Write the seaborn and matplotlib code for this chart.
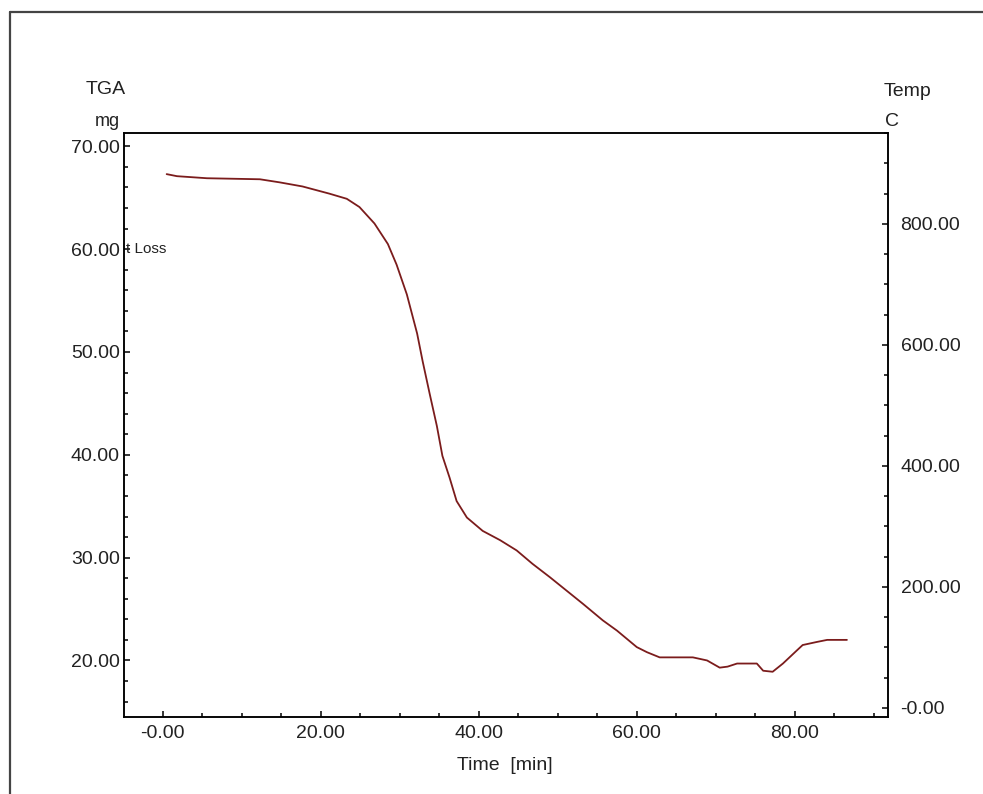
import numpy as np
import pandas as pd
import matplotlib
matplotlib.use('Agg')
import matplotlib.pyplot as plt
from matplotlib.lines import Line2D
from matplotlib.ticker import MultipleLocator, FixedLocator, FixedFormatter
import seaborn as sns

# TGA curve
time_min = [0.5, 1.8, 5.6, 12.3, 14.8, 17.7, 21.1, 23.3, 24.9, 26.8, 28.5, 29.6,
            30.9, 32.2, 32.9, 33.8, 34.7, 35.4, 36.3, 37.2, 38.5, 40.5, 42.7,
            44.8, 46.8, 49.0, 51.1, 53.2, 55.7, 57.5, 60.0, 61.3, 62.9, 67.1,
            68.9, 70.5, 71.5, 72.7, 75.2, 76.0, 77.2, 78.5, 80.3, 81.0, 82.8,
            84.1, 86.6]
tga_mg = [67.3, 67.1, 66.9, 66.8, 66.5, 66.1, 65.4, 64.9, 64.1, 62.5, 60.5, 58.5,
          55.6, 51.8, 49.1, 45.9, 42.8, 39.9, 37.8, 35.5, 33.9, 32.6, 31.7,
          30.7, 29.4, 28.1, 26.8, 25.5, 23.9, 22.9, 21.3, 20.8, 20.3, 20.3,
          20.0, 19.3, 19.4, 19.7, 19.7, 19.0, 18.9, 19.7, 21.0, 21.5, 21.8,
          22.0, 22.0]

x_ticks = [0, 20, 40, 60, 80]
x_labels = ['-0.00', '20.00', '40.00', '60.00', '80.00']
left_ticks = [20, 30, 40, 50, 60, 70]
left_labels = ['20.00', '30.00', '40.00', '50.00', '60.00', '70.00']
right_ticks = [0, 200, 400, 600, 800]
right_labels = ['-0.00', '200.00', '400.00', '600.00', '800.00']

df = pd.DataFrame({'Time': time_min, 'TGA': tga_mg})

sns.set_style('white')
plt.rcParams['font.family'] = ['Liberation Sans', 'DejaVu Sans']

W, H = 983, 794
fig = plt.figure(figsize=(W / 100, H / 100), dpi=100)
ax = fig.add_axes([124 / W, 1 - 717 / H, (888 - 124) / W, (717 - 133) / H])

sns.lineplot(data=df, x='Time', y='TGA', ax=ax, color='#7b1c1c', linewidth=1.3)

ax.set_xlim(-4.9, 91.8)
ax.set_ylim(14.5, 71.3)
ax.xaxis.set_major_locator(FixedLocator(x_ticks))
ax.xaxis.set_major_formatter(FixedFormatter(x_labels))
ax.xaxis.set_minor_locator(MultipleLocator(5))
ax.yaxis.set_major_locator(FixedLocator(left_ticks))
ax.yaxis.set_major_formatter(FixedFormatter(left_labels))
ax.yaxis.set_minor_locator(MultipleLocator(2))
ax.set_xlabel('')
ax.set_ylabel('')

ax2 = ax.twinx()
ax2.set_ylim(-15, 950)
ax2.yaxis.set_major_locator(FixedLocator(right_ticks))
ax2.yaxis.set_major_formatter(FixedFormatter(right_labels))
ax2.yaxis.set_minor_locator(MultipleLocator(50))

for a in (ax, ax2):
    for sp in a.spines.values():
        sp.set_visible(True)
        sp.set_color('black')
        sp.set_linewidth(1.1)
    a.tick_params(which='major', direction='in', length=4.5, width=1.1,
                  color='black', labelsize=14, labelcolor='#222222')
    a.tick_params(which='minor', direction='in', length=3, width=1.1, color='black')

ax.tick_params(axis='x', which='both', bottom=True, top=False, pad=6)
ax.tick_params(axis='y', which='both', left=True, right=False, pad=3)
ax2.tick_params(axis='y', which='both', right=True, left=False, pad=9)

# clipped curve name next to the left axis
ax.text(-4.6, 60.0, 't Loss', fontsize=11, color='#222222', va='center', ha='left')

# axis titles as drawn by the instrument software
fig.text(106 / W, 1 - 90 / H, 'TGA', fontsize=14, ha='center', va='center', color='#222222')
fig.text(107 / W, 1 - 122 / H, 'mg', fontsize=13, ha='center', va='center', color='#222222')
fig.text(908 / W, 1 - 92 / H, 'Temp', fontsize=14, ha='center', va='center', color='#222222')
fig.text(892 / W, 1 - 121 / H, 'C', fontsize=14, ha='center', va='center', color='#222222')
fig.text(505 / W, 1 - 765 / H, 'Time  [min]', fontsize=14, ha='center', va='center',
         color='#222222')

# window frame
fig.add_artist(Line2D([10 / W, 10 / W], [0, 1 - 12 / H], color='#444444', lw=1.6))
fig.add_artist(Line2D([10 / W, 1], [1 - 12 / H, 1 - 12 / H], color='#444444', lw=1.6))

fig.savefig('out.png', dpi=100)
